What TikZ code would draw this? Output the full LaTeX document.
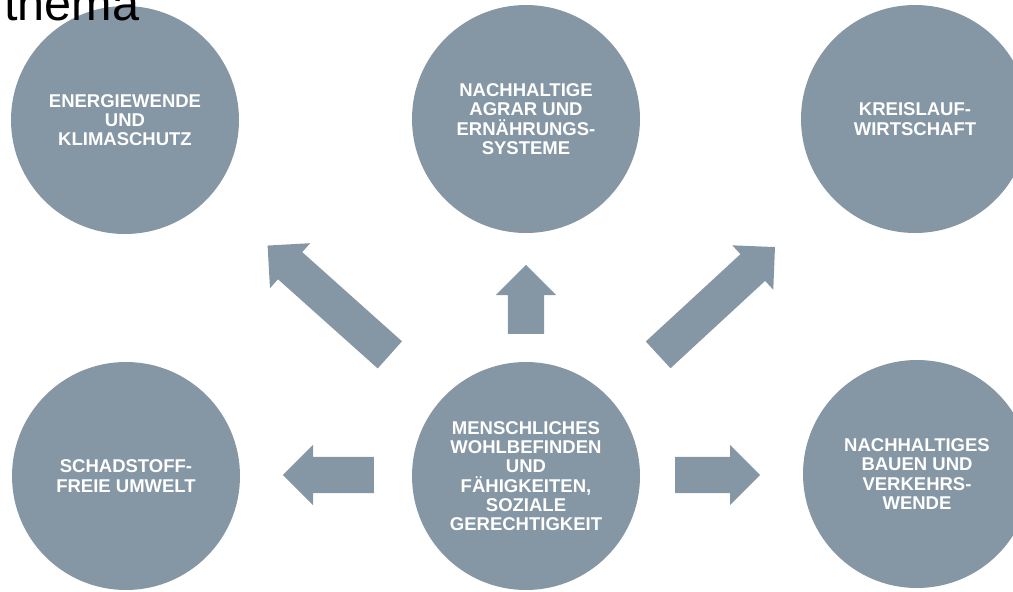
\documentclass[tikz,border=0pt]{standalone}
\usepackage{fontspec}
\setmainfont{Liberation Sans}
\usetikzlibrary{shapes.arrows}
\definecolor{slate}{RGB}{133,150,164}
\tikzset{
  topic/.style={circle, fill=slate, minimum size=228pt, inner sep=0pt, text=white, align=center, font=\bfseries\fontsize{18.5}{19.3}\selectfont},
  blockarrow/.style={single arrow, fill=slate, inner xsep=0pt, inner ysep=18pt, single arrow head extend=12pt, single arrow tip angle=90, minimum width=0pt, anchor=tail}
}
\begin{document}
\begin{tikzpicture}[x=1pt,y=-1pt]
    \useasboundingbox (0,0) rectangle (1013,592);
    \clip (0,0) rectangle (1013,592);

    % top row of topics
    \node[topic] (energie) at (125,120) {ENERGIEWENDE\\UND\\KLIMASCHUTZ};
    \node[topic] (agrar) at (526,119) {NACHHALTIGE\\AGRAR UND\\ERNÄHRUNGS-\\SYSTEME};
    \node[topic] (kreislauf) at (915,119) {KREISLAUF-\\WIRTSCHAFT};

    % bottom row of topics
    \node[topic] (schadstoff) at (126,476) {SCHADSTOFF-\\FREIE UMWELT};
    \node[topic] (mensch) at (526,476) {MENSCHLICHES\\WOHLBEFINDEN\\UND\\FÄHIGKEITEN,\\SOZIALE\\GERECHTIGKEIT};
    \node[topic] (bauen) at (917,474) {NACHHALTIGES\\BAUEN UND\\VERKEHRS-\\WENDE};

    % arrows from the centre topic
    \node[blockarrow, minimum height=164pt, rotate=138.2] (pfeillinksoben) at (390,355) {};
    \node[blockarrow, minimum height=69pt, rotate=90] (pfeiloben) at (526,334) {};
    \node[blockarrow, minimum height=159pt, rotate=42.7] (pfeilrechtsoben) at (658,355) {};
    \node[blockarrow, minimum height=91pt, rotate=180] (pfeillinks) at (374,475) {};
    \node[blockarrow, minimum height=85pt] (pfeilrechts) at (675,475) {};

    % title
    \node[anchor=base west, inner sep=0pt, font=\fontsize{48.6}{50}\selectfont] (title) at (4,20) {thema};

\end{tikzpicture}
\end{document}
